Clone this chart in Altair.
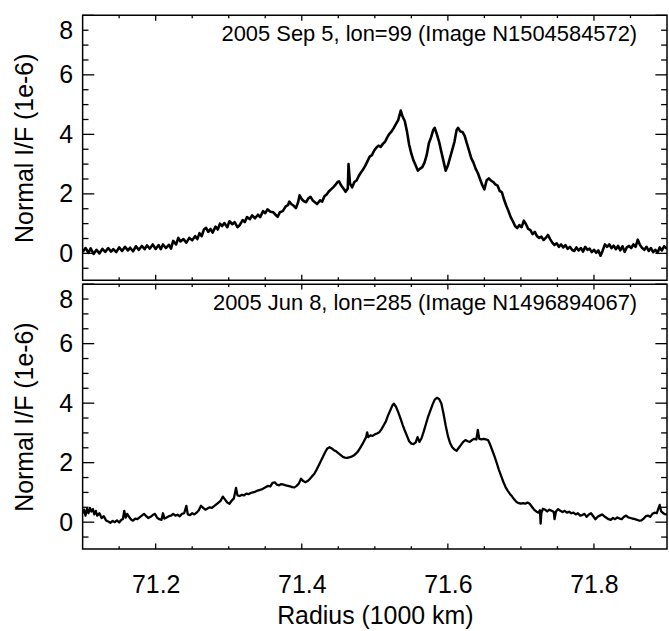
import altair as alt
import pandas as pd

FONT = "Liberation Sans"

# ---------------- data ----------------
x_domain = [71.1, 71.9]
y_domain = [-0.9, 8.0]
y_major = [0, 2, 4, 6, 8]
y_minor = [-0.5, 0.5, 1.0, 1.5, 2.5, 3.0, 3.5, 4.5, 5.0, 5.5, 6.5, 7.0, 7.5]
x_major = [71.2, 71.4, 71.6, 71.8]
x_minor = [71.15, 71.25, 71.3, 71.35, 71.45, 71.5, 71.55, 71.65, 71.7, 71.75, 71.85]

top_label = ["2005 Sep 5, lon=99 (Image N1504584572)"]
bot_label = ["2005 Jun 8, lon=285 (Image N1496894067)"]

top_r = [71.100, 71.104, 71.108, 71.111, 71.115, 71.119, 71.123, 71.127, 71.131, 71.135,
         71.139, 71.142, 71.146, 71.150, 71.154, 71.158, 71.162, 71.165, 71.169, 71.173,
         71.177, 71.181, 71.185, 71.188, 71.192, 71.196, 71.200, 71.204, 71.207, 71.210,
         71.214, 71.218, 71.221, 71.224, 71.228, 71.231, 71.234, 71.238, 71.242, 71.246,
         71.250, 71.254, 71.257, 71.260, 71.263, 71.266, 71.269, 71.272, 71.275, 71.278,
         71.282, 71.285, 71.288, 71.291, 71.294, 71.298, 71.301, 71.305, 71.308, 71.312,
         71.315, 71.319, 71.322, 71.325, 71.329, 71.332, 71.336, 71.340, 71.343, 71.347,
         71.350, 71.353, 71.357, 71.361, 71.364, 71.367, 71.370, 71.374, 71.378, 71.381,
         71.383, 71.386, 71.389, 71.392, 71.395, 71.397, 71.400, 71.403, 71.406, 71.409,
         71.412, 71.415, 71.418, 71.421, 71.425, 71.428, 71.431, 71.434, 71.437, 71.440,
         71.443, 71.446, 71.449, 71.451, 71.454, 71.457, 71.460, 71.463, 71.464, 71.466,
         71.469, 71.472, 71.475, 71.478, 71.481, 71.484, 71.487, 71.490, 71.493, 71.496,
         71.499, 71.502, 71.505, 71.508, 71.511, 71.514, 71.517, 71.520, 71.523, 71.526,
         71.529, 71.532, 71.5355, 71.538, 71.541, 71.544, 71.547, 71.550, 71.553, 71.556,
         71.559, 71.562, 71.565, 71.568, 71.571, 71.574, 71.577, 71.580, 71.582, 71.585,
         71.588, 71.591, 71.594, 71.597, 71.600, 71.603, 71.606, 71.609, 71.612, 71.614,
         71.617, 71.620, 71.623, 71.626, 71.629, 71.632, 71.635, 71.638, 71.641, 71.644,
         71.647, 71.650, 71.653, 71.656, 71.659, 71.662, 71.665, 71.668, 71.671, 71.674,
         71.677, 71.680, 71.683, 71.686, 71.689, 71.692, 71.695, 71.698, 71.701, 71.704,
         71.707, 71.710, 71.713, 71.716, 71.719, 71.722, 71.725, 71.728, 71.731, 71.734,
         71.737, 71.740, 71.743, 71.746, 71.749, 71.752, 71.755, 71.758, 71.761, 71.764,
         71.767, 71.770, 71.773, 71.776, 71.779, 71.782, 71.785, 71.788, 71.791, 71.794,
         71.797, 71.800, 71.803, 71.806, 71.809, 71.812, 71.815, 71.818, 71.821, 71.824,
         71.827, 71.830, 71.833, 71.836, 71.839, 71.842, 71.845, 71.848, 71.851, 71.854,
         71.857, 71.860, 71.863, 71.866, 71.869, 71.872, 71.875, 71.878, 71.881, 71.884,
         71.887, 71.890, 71.893, 71.896, 71.900]
top_v = [0.05, 0.18, 0.02, 0.17, -0.02, 0.12, 0.00, 0.15, 0.05, 0.18,
         0.06, 0.14, 0.04, 0.20, 0.08, 0.22, 0.10, 0.19, 0.07, 0.24,
         0.12, 0.25, 0.14, 0.27, 0.16, 0.30, 0.15, 0.28, 0.14, 0.30,
         0.18, 0.29, 0.16, 0.42, 0.30, 0.52, 0.40, 0.48, 0.36, 0.52,
         0.44, 0.58, 0.48, 0.68, 0.58, 0.80, 0.86, 0.72, 0.82, 0.70,
         0.90, 0.80, 1.00, 0.92, 1.02, 0.88, 1.08, 0.98, 1.05, 0.88,
         0.95, 1.12, 1.05, 1.22, 1.15, 1.28, 1.18, 1.30, 1.22, 1.42,
         1.35, 1.48, 1.40, 1.38, 1.30, 1.23, 1.38, 1.42, 1.58, 1.62,
         1.74, 1.65, 1.60, 1.52, 1.72, 1.95, 1.82, 1.75, 1.72, 1.85,
         1.90, 1.78, 1.72, 1.66, 1.78, 1.74, 1.92, 1.98, 2.08, 2.15,
         2.22, 2.30, 2.40, 2.42, 2.28, 2.18, 2.07, 2.18, 3.00, 2.35,
         2.22, 2.40, 2.45, 2.60, 2.72, 2.82, 2.95, 3.10, 3.25, 3.30,
         3.45, 3.55, 3.62, 3.58, 3.68, 3.75, 3.90, 4.02, 4.10, 4.22,
         4.35, 4.48, 4.80, 4.60, 4.45, 4.10, 3.65, 3.35, 3.12, 2.95,
         2.78, 2.85, 2.90, 3.05, 3.30, 3.70, 3.90, 4.15, 4.22, 4.00,
         3.75, 3.42, 3.10, 2.78, 2.95, 3.22, 3.48, 3.75, 4.15, 4.22,
         4.10, 4.08, 3.95, 3.70, 3.45, 3.20, 3.05, 2.85, 2.70, 2.50,
         2.30, 2.15, 2.45, 2.52, 2.45, 2.40, 2.32, 2.28, 2.10, 2.05,
         1.80, 1.60, 1.42, 1.22, 1.08, 0.92, 0.85, 0.95, 0.88, 1.10,
         0.98, 0.82, 0.78, 0.65, 0.72, 0.58, 0.52, 0.56, 0.45, 0.52,
         0.62, 0.48, 0.36, 0.28, 0.34, 0.22, 0.30, 0.20, 0.28, 0.15,
         0.22, 0.12, 0.08, 0.20, 0.10, 0.18, 0.06, 0.22, 0.12, 0.16,
         0.04, 0.12, 0.02, 0.10, -0.08, 0.10, 0.30, 0.22, 0.30, 0.18,
         0.26, 0.14, 0.25, 0.10, 0.24, 0.05, 0.20, 0.25, 0.18, 0.30,
         0.22, 0.46, 0.28, 0.18, 0.12, 0.22, 0.08, 0.18, 0.04, 0.12,
         0.02, 0.20, 0.10, 0.24, 0.15]

bot_r = [71.100, 71.102, 71.104, 71.106, 71.108, 71.110, 71.112, 71.114, 71.116, 71.118,
         71.120, 71.123, 71.126, 71.129, 71.132, 71.135, 71.138, 71.141, 71.144, 71.147,
         71.150, 71.153, 71.155, 71.157, 71.159, 71.161, 71.163, 71.166, 71.169, 71.172,
         71.175, 71.178, 71.181, 71.184, 71.187, 71.190, 71.193, 71.196, 71.199, 71.202,
         71.205, 71.208, 71.210, 71.212, 71.215, 71.218, 71.221, 71.224, 71.227, 71.230,
         71.233, 71.236, 71.239, 71.242, 71.244, 71.247, 71.250, 71.253, 71.256, 71.259,
         71.262, 71.265, 71.268, 71.271, 71.274, 71.277, 71.280, 71.283, 71.286, 71.289,
         71.292, 71.295, 71.298, 71.301, 71.304, 71.307, 71.310, 71.312, 71.315, 71.318,
         71.321, 71.324, 71.327, 71.330, 71.333, 71.336, 71.339, 71.342, 71.345, 71.348,
         71.351, 71.354, 71.357, 71.360, 71.363, 71.366, 71.369, 71.372, 71.375, 71.378,
         71.381, 71.384, 71.387, 71.390, 71.393, 71.396, 71.399, 71.402, 71.405, 71.408,
         71.411, 71.414, 71.417, 71.420, 71.423, 71.426, 71.429, 71.432, 71.435, 71.438,
         71.441, 71.444, 71.447, 71.450, 71.453, 71.456, 71.459, 71.462, 71.465, 71.468,
         71.471, 71.474, 71.477, 71.480, 71.483, 71.486, 71.488, 71.4895, 71.491, 71.494,
         71.497, 71.500, 71.503, 71.506, 71.509, 71.512, 71.515, 71.518, 71.521, 71.524,
         71.526, 71.529, 71.532, 71.535, 71.538, 71.541, 71.544, 71.547, 71.550, 71.553,
         71.556, 71.5585, 71.561, 71.564, 71.567, 71.570, 71.573, 71.576, 71.579, 71.582,
         71.585, 71.588, 71.591, 71.594, 71.597, 71.600, 71.603, 71.606, 71.609, 71.612,
         71.615, 71.618, 71.621, 71.624, 71.627, 71.630, 71.633, 71.636, 71.639, 71.641,
         71.643, 71.646, 71.649, 71.652, 71.655, 71.658, 71.661, 71.664, 71.667, 71.670,
         71.673, 71.676, 71.679, 71.682, 71.685, 71.688, 71.691, 71.694, 71.697, 71.700,
         71.703, 71.706, 71.709, 71.712, 71.715, 71.718, 71.721, 71.724, 71.726, 71.727,
         71.728, 71.730, 71.733, 71.736, 71.739, 71.742, 71.745, 71.746, 71.748, 71.751,
         71.754, 71.757, 71.760, 71.763, 71.766, 71.769, 71.772, 71.775, 71.778, 71.781,
         71.784, 71.787, 71.790, 71.793, 71.796, 71.799, 71.802, 71.805, 71.808, 71.811,
         71.814, 71.817, 71.820, 71.823, 71.826, 71.829, 71.832, 71.835, 71.838, 71.841,
         71.844, 71.847, 71.850, 71.853, 71.856, 71.859, 71.862, 71.865, 71.868, 71.871,
         71.874, 71.877, 71.880, 71.883, 71.886, 71.888, 71.890, 71.892, 71.895, 71.898,
         71.900]
bot_v = [0.30, 0.42, 0.22, 0.45, 0.30, 0.48, 0.36, 0.44, 0.26, 0.38,
         0.22, 0.30, 0.14, 0.20, 0.06, 0.02, -0.02, 0.04, 0.00, 0.06,
         -0.01, 0.08, 0.10, 0.38, 0.15, 0.28, 0.20, 0.10, 0.05, 0.12,
         0.10, 0.16, 0.22, 0.28, 0.20, 0.14, 0.18, 0.24, 0.28, 0.15,
         0.10, 0.08, 0.30, 0.12, 0.16, 0.20, 0.22, 0.28, 0.22, 0.25,
         0.20, 0.28, 0.30, 0.55, 0.26, 0.24, 0.30, 0.26, 0.32, 0.40,
         0.55, 0.48, 0.42, 0.46, 0.50, 0.48, 0.54, 0.60, 0.66, 0.72,
         0.86, 0.76, 0.66, 0.62, 0.72, 0.80, 1.15, 0.90, 0.88, 0.92,
         0.90, 0.96, 0.94, 0.98, 1.00, 1.02, 1.06, 1.08, 1.10, 1.14,
         1.18, 1.22, 1.20, 1.32, 1.34, 1.26, 1.24, 1.28, 1.26, 1.24,
         1.22, 1.20, 1.18, 1.17, 1.22, 1.30, 1.46, 1.38, 1.34, 1.38,
         1.45, 1.54, 1.62, 1.75, 1.90, 2.05, 2.20, 2.35, 2.48, 2.52,
         2.48, 2.42, 2.38, 2.32, 2.26, 2.20, 2.17, 2.16, 2.18, 2.20,
         2.24, 2.30, 2.38, 2.50, 2.62, 2.76, 2.85, 3.02, 2.86, 2.92,
         2.90, 2.95, 2.98, 3.02, 3.12, 3.25, 3.38, 3.58, 3.75, 3.92,
         3.98, 3.88, 3.70, 3.50, 3.28, 3.08, 2.90, 2.72, 2.64, 2.62,
         2.68, 2.86, 2.70, 2.82, 3.05, 3.30, 3.55, 3.75, 3.95, 4.12,
         4.18, 4.14, 4.00, 3.65, 3.25, 2.90, 2.66, 2.52, 2.44, 2.40,
         2.50, 2.60, 2.70, 2.76, 2.72, 2.70, 2.76, 2.80, 2.78, 3.10,
         2.80, 2.78, 2.80, 2.78, 2.76, 2.60, 2.40, 2.20, 1.98, 1.75,
         1.55, 1.35, 1.18, 1.05, 0.95, 0.86, 0.76, 0.68, 0.64, 0.62,
         0.64, 0.62, 0.66, 0.62, 0.52, 0.42, 0.36, 0.32, 0.40, -0.05,
         0.30, 0.45, 0.42, 0.36, 0.42, 0.38, 0.34, 0.10, 0.36, 0.44,
         0.38, 0.34, 0.38, 0.32, 0.35, 0.30, 0.32, 0.26, 0.30, 0.22,
         0.24, 0.28, 0.18, 0.26, 0.30, 0.20, 0.10, 0.18, 0.22, 0.26,
         0.20, 0.15, 0.10, 0.08, 0.14, 0.10, 0.16, 0.12, 0.10, 0.18,
         0.22, 0.16, 0.14, 0.12, 0.10, 0.08, 0.05, 0.06, 0.12, 0.20,
         0.22, 0.18, 0.28, 0.32, 0.30, 0.45, 0.58, 0.36, 0.30, 0.26,
         0.28]

# ---------------- layout ----------------
W = 587
H = 266
Y_MAJ_LEN = 11.7
Y_MIN_LEN = 5.9
X_MAJ_LEN = 5.5
X_MIN_LEN = 2.8
TICK_W = 1.3

xs = alt.Scale(domain=x_domain, nice=False, zero=False)
ys = alt.Scale(domain=y_domain, nice=False, zero=False)

y_axis = alt.Axis(values=y_major, format="d", title="Normal I/F (1e-6)",
                  ticks=False, tickSize=0, domain=False, grid=False,
                  labelPadding=10, titlePadding=21,
                  labelFlush=True, labelFlushOffset=-3)


def panel(r, v, label, show_x, lw):
    if show_x:
        x_axis = alt.Axis(values=x_major, format=".1f", title="Radius (1000 km)",
                          ticks=False, tickSize=0, domain=False, grid=False,
                          labelPadding=24, titlePadding=6, labelFlush=False)
    else:
        x_axis = None
    X = alt.X("r:Q", scale=xs, axis=x_axis)
    Y = alt.Y("v:Q", scale=ys, axis=y_axis)

    df = pd.DataFrame({"r": r, "v": v})
    line = alt.Chart(df).mark_line(color="black", strokeWidth=lw,
                                   strokeJoin="round", clip=True).encode(x=X, y=Y)

    ymaj = pd.DataFrame({"v": y_major})
    ymin = pd.DataFrame({"v": y_minor})
    xmaj = pd.DataFrame({"r": x_major})
    xmin = pd.DataFrame({"r": x_minor})

    rule = dict(color="black", strokeWidth=TICK_W)
    layers = [line]
    for d, ln in ((ymaj, Y_MAJ_LEN), (ymin, Y_MIN_LEN)):
        layers.append(alt.Chart(d).mark_rule(**rule).encode(
            y=Y, x=alt.value(0), x2=alt.value(ln)))
        layers.append(alt.Chart(d).mark_rule(**rule).encode(
            y=Y, x=alt.value(W), x2=alt.value(W - ln)))
    for d, ln in ((xmaj, X_MAJ_LEN), (xmin, X_MIN_LEN)):
        layers.append(alt.Chart(d).mark_rule(**rule).encode(
            x=X, y=alt.value(0), y2=alt.value(ln)))
        layers.append(alt.Chart(d).mark_rule(**rule).encode(
            x=X, y=alt.value(H), y2=alt.value(H - ln)))

    txt = alt.Chart(pd.DataFrame({"label": label})).mark_text(
        align="right", baseline="alphabetic", fontSize=22, font=FONT, color="black"
    ).encode(text="label:N", x=alt.value(W - 30), y=alt.value(26))
    layers.append(txt)

    return alt.layer(*layers).properties(width=W, height=H)


top = panel(top_r, top_v, top_label, False, 2.6)
bottom = panel(bot_r, bot_v, bot_label, True, 2.3)

chart = alt.vconcat(top, bottom, spacing=0).properties(
    padding={"left": 12, "top": 12, "right": 0, "bottom": 0},
    background="white",
).configure_view(
    stroke="black", strokeWidth=1.5
).configure_axis(
    labelFont=FONT, titleFont=FONT, labelFontSize=25, titleFontSize=25,
    labelColor="black", titleColor="black", titleFontWeight="normal",
)

chart.save("out.html", embed_options={"renderer": "svg", "actions": False})
